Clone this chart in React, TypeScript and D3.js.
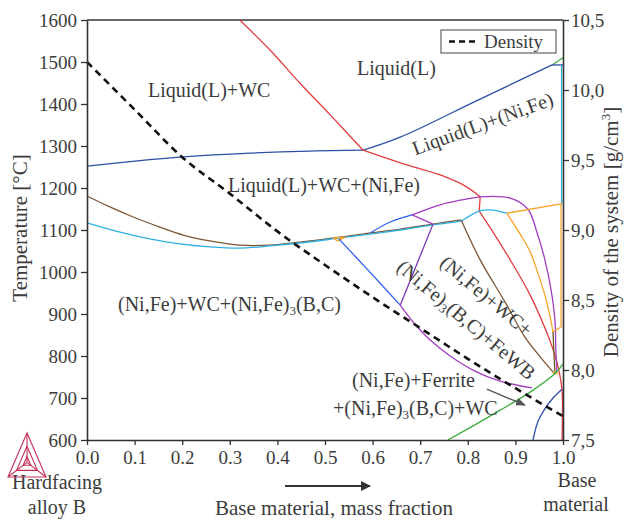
import React, { useEffect, useRef } from "react";
import * as d3 from "d3";

const W = 629;
const H = 520;
const FONT = "Liberation Serif, Times New Roman, serif";
const TXT = "#3c3c3c";

const tempTicks = [600, 700, 800, 900, 1000, 1100, 1200, 1300, 1400, 1500, 1600];
const fracTicks = [0, 0.1, 0.2, 0.3, 0.4, 0.5, 0.6, 0.7, 0.8, 0.9, 1.0];
const densTicks = [7.5, 8.0, 8.5, 9.0, 9.5, 10.0, 10.5];

// density of the system (right axis)
const densityFrac = [0, 0.1, 0.2, 0.3, 0.4, 0.5, 0.6, 0.7, 0.8, 0.9, 1.0];
const densityVal = [10.2, 9.86, 9.52, 9.26, 8.99, 8.75, 8.52, 8.3, 8.08, 7.87, 7.67];

// phase boundaries: [mass fraction, temperature °C]
const niFeLiquidusLeft = [[0, 1252], [0.101, 1264], [0.202, 1274], [0.342, 1283], [0.468, 1288], [0.58, 1290]];
const niFeLiquidusRight = [[0.58, 1290], [0.658, 1321], [0.817, 1407], [0.977, 1493]];
const niFeLiquidusEnd = [[0.977, 1493], [1, 1493]];
const greenTop = [[0.977, 1493], [1, 1510]];
const wcLiquidus = [[0.321, 1600], [0.384, 1529], [0.447, 1450], [0.511, 1374], [0.58, 1290]];
const redMid = [[0.58, 1290], [0.658, 1260], [0.742, 1231], [0.794, 1205], [0.826, 1179]];
const redStep = [[0.826, 1179], [0.824, 1145]];
const redLower = [[0.824, 1145], [0.857, 1088], [0.889, 1029], [0.931, 945], [0.968, 850], [0.983, 802], [0.992, 762], [0.998, 719], [0.998, 600]];
const purpleTopLeft = [[0.683, 1136], [0.742, 1160], [0.784, 1171], [0.826, 1179]];
const purpleTopRight = [[0.826, 1179], [0.889, 1176], [0.926, 1150], [0.947, 1088], [0.962, 1029], [0.975, 957], [0.983, 886], [0.985, 814], [0.987, 762]];
const purpleShort = [[0.683, 1136], [0.727, 1114]];
const purpleDark = [[0.727, 1114], [0.658, 921]];
const purpleU = [[0.658, 921], [0.685, 881], [0.721, 838], [0.763, 800], [0.815, 764], [0.868, 740], [0.935, 724]];
const cyanLeft = [[0, 1117], [0.069, 1095], [0.132, 1079], [0.195, 1067], [0.258, 1060], [0.321, 1057], [0.384, 1062], [0.447, 1069], [0.532, 1081], [0.595, 1090], [0.658, 1100], [0.727, 1112], [0.786, 1121]];
const cyanUp = [[0.786, 1121], [0.824, 1145], [0.847, 1148], [0.882, 1140]];
const cyanRight = [[0.997, 1162], [0.997, 1493]];
const brownLeft = [[0, 1181], [0.048, 1155], [0.097, 1131], [0.153, 1107], [0.202, 1088], [0.258, 1074], [0.321, 1064], [0.384, 1064], [0.447, 1071], [0.532, 1083], [0.595, 1093], [0.658, 1102], [0.727, 1114], [0.786, 1124]];
const brownDown = [[0.786, 1124], [0.826, 1029], [0.878, 929], [0.92, 845], [0.952, 798], [0.983, 757]];
const orangeTop = [[0.882, 1140], [0.996, 1162], [0.996, 871]];
const orangeCurve = [[0.882, 1140], [0.91, 1090], [0.931, 1048], [0.947, 998], [0.962, 945], [0.973, 893], [0.979, 857]];
const orangeKink = [[0.979, 857], [0.998, 871]];
const oliveLine = [[0.979, 857], [0.983, 757]];
const orangeTiny = [[0.517, 1081], [0.527, 1074], [0.542, 1083], [0.517, 1081]];
const orangeSmall = [[0.979, 762], [0.99, 757]];
const blueUpper = [[0.595, 1093], [0.637, 1119], [0.683, 1136]];
const blueLower = [[0.529, 1079], [0.59, 1005], [0.658, 921]];
const greenLine = [[0.758, 600], [0.815, 636], [0.868, 671], [0.931, 714], [0.985, 760], [1, 781]];
const navyBottom = [[0.937, 600], [0.947, 643], [0.962, 674], [0.979, 700], [0.998, 721]];

const NAVY = "#2d50a6";
const RED = "#e23d3f";
const PURPLE = "#a23dbf";
const PURPLE_D = "#7a36b8";
const CYAN = "#2fb0e3";
const ORANGE = "#f6a428";
const BROWN = "#7d5636";
const BLUE = "#2f62f2";
const GREEN = "#3dad3d";
const OLIVE = "#6a5a20";

type Series = { d: number[][]; c: string; smooth: boolean };
const series: Series[] = [
  { d: greenTop, c: GREEN, smooth: false },
  { d: niFeLiquidusLeft, c: NAVY, smooth: true },
  { d: niFeLiquidusRight, c: NAVY, smooth: true },
  { d: niFeLiquidusEnd, c: NAVY, smooth: false },
  { d: wcLiquidus, c: RED, smooth: true },
  { d: redMid, c: RED, smooth: true },
  { d: redStep, c: RED, smooth: false },
  { d: redLower, c: RED, smooth: true },
  { d: cyanRight, c: CYAN, smooth: false },
  { d: brownLeft, c: BROWN, smooth: true },
  { d: cyanLeft, c: CYAN, smooth: true },
  { d: cyanUp, c: CYAN, smooth: true },
  { d: brownDown, c: BROWN, smooth: true },
  { d: purpleTopLeft, c: PURPLE, smooth: true },
  { d: purpleTopRight, c: PURPLE, smooth: true },
  { d: purpleShort, c: PURPLE, smooth: false },
  { d: purpleDark, c: PURPLE_D, smooth: false },
  { d: purpleU, c: PURPLE, smooth: true },
  { d: orangeTop, c: ORANGE, smooth: false },
  { d: orangeCurve, c: ORANGE, smooth: true },
  { d: orangeKink, c: ORANGE, smooth: false },
  { d: oliveLine, c: OLIVE, smooth: false },
  { d: orangeTiny, c: ORANGE, smooth: false },
  { d: orangeSmall, c: ORANGE, smooth: false },
  { d: blueUpper, c: BLUE, smooth: true },
  { d: blueLower, c: BLUE, smooth: true },
  { d: greenLine, c: GREEN, smooth: true },
  { d: navyBottom, c: NAVY, smooth: true },
];

const X0 = 87, X1 = 563, Y0 = 440, Y1 = 20;

export default function App() {
  const ref = useRef<SVGSVGElement>(null);
  const x = d3.scaleLinear().domain([0, 1]).range([X0, X1]);
  const yT = d3.scaleLinear().domain([600, 1600]).range([Y0, Y1]);
  const yD = d3.scaleLinear().domain([7.5, 10.5]).range([Y0, Y1]);

  useEffect(() => {
    const svg = d3.select(ref.current);
    svg.selectAll(".ax").remove();
    const left = svg.append("g").attr("class", "ax").attr("transform", `translate(${X0},0)`)
      .call(d3.axisLeft(yT).tickValues(tempTicks).tickSize(6).tickSizeOuter(0).tickPadding(4).tickFormat(d3.format("d")));
    const bottom = svg.append("g").attr("class", "ax").attr("transform", `translate(0,${Y0})`)
      .call(d3.axisBottom(x).tickValues(fracTicks).tickSize(5).tickSizeOuter(0).tickPadding(6).tickFormat(d3.format(".1f")));
    const right = svg.append("g").attr("class", "ax").attr("transform", `translate(${X1},0)`)
      .call(d3.axisRight(yD).tickValues(densTicks).tickSize(6).tickSizeOuter(0).tickPadding(2)
        .tickFormat((d: any) => d3.format(".1f")(d).replace(".", ",")));
    [left, bottom, right].forEach((g) => {
      g.select(".domain").attr("stroke", "#333").attr("stroke-width", 1.6);
      g.selectAll(".tick line").attr("stroke", "#333").attr("stroke-width", 1.3);
      g.selectAll(".tick text").attr("fill", TXT).style("font-family", FONT).style("font-size", "19px");
    });
  }, []);

  const lineGen = (smooth: boolean) =>
    d3.line<number[]>().x((d) => x(d[0])).y((d) => yT(d[1])).curve(smooth ? d3.curveCatmullRom.alpha(0.5) : d3.curveLinear);

  const densLine = d3.line<number>().x((_, i) => x(densityFrac[i])).y((d) => yD(d)).curve(d3.curveMonotoneX);

  const t = { fontFamily: FONT, fontSize: 20, fill: TXT } as const;
  const sub = (s: string, rest: string) => (
    <>
      <tspan fontSize={13} dy={4}>{s}</tspan>
      <tspan dy={-4}>{rest}</tspan>
    </>
  );

  // logo geometry
  const A = [27, 433], B = [8, 477], C = [46, 477];
  const G = [(A[0] + B[0] + C[0]) / 3, (A[1] + B[1] + C[1]) / 3];
  const mid = (p: number[], f: number) => [G[0] + (p[0] - G[0]) * f, G[1] + (p[1] - G[1]) * f];
  const tri = (f: number) => [mid(A, f), mid(B, f), mid(C, f)].map((p) => p.join(",")).join(" ");

  return (
    <svg ref={ref} width={W} height={H} style={{ position: "absolute", left: 0, top: 0, background: "#fff" }}>
      <rect width={W} height={H} fill="#fff" />
      <line x1={X0} x2={X1} y1={Y1} y2={Y1} stroke="#333" strokeWidth={1.6} />
      <g fill="none" strokeWidth={1.3} strokeLinejoin="round">
        {series.map((s, i) => (
          <path key={i} d={lineGen(s.smooth)(s.d as any) || ""} stroke={s.c} />
        ))}
      </g>
      <path d={densLine(densityVal) || ""} fill="none" stroke="#111" strokeWidth={2.6} strokeDasharray="7,5" />

      {/* region labels */}
      <text {...t} x={148} y={97}>Liquid(L)+WC</text>
      <text {...t} x={357} y={75}>Liquid(L)</text>
      <text {...t} x={228} y={192}>Liquid(L)+WC+(Ni,Fe)</text>
      <text {...t} x={118} y={311}>(Ni,Fe)+WC+(Ni,Fe){sub("3", "(B,C)")}</text>
      <text {...t} textAnchor="middle" transform="translate(485,130) rotate(-20)">Liquid(L)+(Ni,Fe)</text>
      <text {...t} textAnchor="middle" transform="translate(482,301) rotate(40)">(Ni,Fe)+WC+</text>
      <text {...t} textAnchor="middle" transform="translate(462,325) rotate(40)">(Ni,Fe){sub("3", "(B,C)+FeWB")}</text>
      <text {...t} x={352} y={387}>(Ni,Fe)+Ferrite</text>
      <text {...t} x={333} y={415}>+(Ni,Fe){sub("3", "(B,C)+WC")}</text>

      {/* pointer arrow */}
      <defs>
        <marker id="ah" viewBox="0 0 10 10" refX="9" refY="5" markerWidth="7" markerHeight="7" orient="auto">
          <path d="M0,1 L10,5 L0,9 z" fill="#555" />
        </marker>
        <marker id="ah2" viewBox="0 0 10 10" refX="9" refY="5" markerWidth="5" markerHeight="5" orient="auto">
          <path d="M0,0 L10,5 L0,10 z" fill="#333" />
        </marker>
      </defs>
      <line x1={x(0.84)} y1={yT(721)} x2={x(0.92)} y2={yT(683)} stroke="#555" strokeWidth={1.4} markerEnd="url(#ah)" />

      {/* legend */}
      <rect x={441} y={30} width={115} height={23} fill="#fff" stroke="#444" strokeWidth={1} />
      <line x1={449} x2={478} y1={41.5} y2={41.5} stroke="#111" strokeWidth={2.4} strokeDasharray="6,4" />
      <text {...t} fontSize={19} x={484} y={48}>Density</text>

      {/* axis titles */}
      <text {...t} fontSize={21} textAnchor="middle" transform="translate(27,228) rotate(-90)">Temperature [°C]</text>
      <text {...t} fontSize={21} textAnchor="middle" transform="translate(618,232) rotate(-90)">
        Density of the system [g/cm<tspan fontSize={13} dy={-8}>3</tspan><tspan dy={8}>]</tspan>
      </text>
      <text {...t} fontSize={20} textAnchor="middle" x={57} y={489}>Hardfacing</text>
      <text {...t} fontSize={20} textAnchor="middle" x={57} y={514}>alloy B</text>
      <text {...t} fontSize={20} textAnchor="middle" x={577} y={487}>Base</text>
      <text {...t} fontSize={20} textAnchor="middle" x={576} y={511}>material</text>
      <text {...t} fontSize={21} textAnchor="middle" x={334} y={515}>Base material, mass fraction</text>
      <line x1={285} x2={370} y1={486} y2={486} stroke="#333" strokeWidth={2} markerEnd="url(#ah2)" />

      {/* logo */}
      <g fill="none" stroke="#c3305a" strokeWidth={1.1}>
        <polygon points={tri(1)} />
        <polygon points={tri(0.55)} />
        <polygon points={tri(0.2)} />
        <line x1={A[0]} y1={A[1]} x2={G[0]} y2={G[1]} />
        <line x1={B[0]} y1={B[1]} x2={G[0]} y2={G[1]} />
        <line x1={C[0]} y1={C[1]} x2={G[0]} y2={G[1]} />
      </g>
    </svg>
  );
}
